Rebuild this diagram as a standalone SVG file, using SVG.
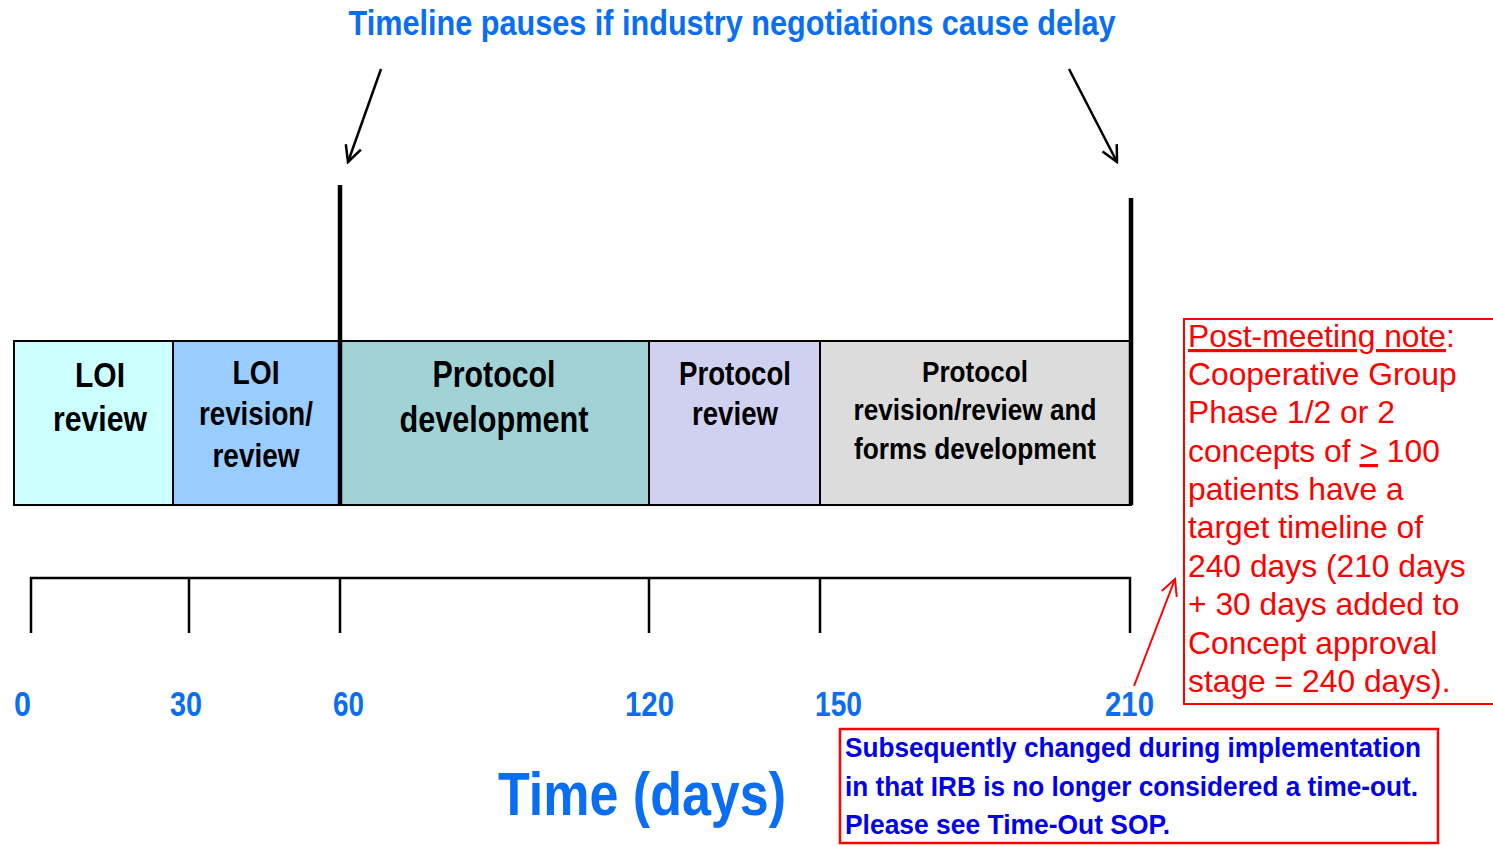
<svg xmlns="http://www.w3.org/2000/svg" width="1493" height="846" viewBox="0 0 1493 846">
<style>
.b{font-family:"Liberation Sans",Arial,sans-serif;font-weight:bold}
.bx{stroke:#000;stroke-width:2}
.lbl{fill:#000;text-anchor:middle}
.ax{fill:#0A6EF5;text-anchor:middle;font-size:35px}
.tick{stroke:#000;stroke-width:2.5;fill:none}
.note{font-family:"Liberation Sans",Arial,sans-serif;font-size:31.8px;fill:#F00}
</style>
<defs>
<marker id="ah" viewBox="0 0 20 20" refX="18" refY="10" markerWidth="20" markerHeight="20" markerUnits="userSpaceOnUse" orient="auto">
<path d="M2,2 L18,10 L2,18" fill="none" stroke="#000" stroke-width="2.5"/>
</marker>
<marker id="ahr" viewBox="0 0 20 20" refX="18" refY="10" markerWidth="20" markerHeight="20" markerUnits="userSpaceOnUse" orient="auto">
<path d="M2,2 L18,10 L2,18" fill="none" stroke="#F00" stroke-width="2"/>
</marker>
</defs>
<rect width="1493" height="846" fill="#fff"/>
<text class="b" x="732" y="35" text-anchor="middle" font-size="35" fill="#0A6EF5" textLength="767" lengthAdjust="spacingAndGlyphs">Timeline pauses if industry negotiations cause delay</text>
<g id="n1"><rect class="bx" x="14" y="341" width="159" height="164" fill="#CCFFFF"/>
<text class="b lbl" font-size="35"><tspan x="100" y="387" textLength="50" lengthAdjust="spacingAndGlyphs">LOI</tspan><tspan x="100" y="431" textLength="94" lengthAdjust="spacingAndGlyphs">review</tspan></text></g>
<g id="n2"><rect class="bx" x="173" y="341" width="167" height="164" fill="#99CCFF"/>
<text class="b lbl" font-size="33"><tspan x="256" y="384" textLength="47" lengthAdjust="spacingAndGlyphs">LOI</tspan><tspan x="256" y="425" textLength="114" lengthAdjust="spacingAndGlyphs">revision/</tspan><tspan x="256" y="467" textLength="87" lengthAdjust="spacingAndGlyphs">review</tspan></text></g>
<g id="n3"><rect class="bx" x="340" y="341" width="309" height="164" fill="#A1D3D6"/>
<text class="b lbl" font-size="36"><tspan x="494" y="387" textLength="123" lengthAdjust="spacingAndGlyphs">Protocol</tspan><tspan x="494" y="432" textLength="189" lengthAdjust="spacingAndGlyphs">development</tspan></text></g>
<g id="n4"><rect class="bx" x="649" y="341" width="171" height="164" fill="#D0D0F0"/>
<text class="b lbl" font-size="34"><tspan x="735" y="385" textLength="112" lengthAdjust="spacingAndGlyphs">Protocol</tspan><tspan x="735" y="425" textLength="86" lengthAdjust="spacingAndGlyphs">review</tspan></text></g>
<g id="n5"><rect class="bx" x="820" y="341" width="311" height="164" fill="#DCDCDC"/>
<text class="b lbl" font-size="30"><tspan x="975" y="382" textLength="106" lengthAdjust="spacingAndGlyphs">Protocol</tspan><tspan x="975" y="420" textLength="243" lengthAdjust="spacingAndGlyphs">revision/review and</tspan><tspan x="975" y="459" textLength="242" lengthAdjust="spacingAndGlyphs">forms development</tspan></text></g>
<g id="connectors">
<line x1="340" y1="185" x2="340" y2="505" stroke="#000" stroke-width="4.5"/>
<line x1="1131" y1="198" x2="1131" y2="505" stroke="#000" stroke-width="4.5"/>
<line x1="381" y1="69" x2="348" y2="162" stroke="#000" stroke-width="2.5" marker-end="url(#ah)"/>
<line x1="1069" y1="69" x2="1117" y2="162" stroke="#000" stroke-width="2.5" marker-end="url(#ah)"/>
<line x1="1134" y1="686" x2="1175" y2="579" stroke="#F00" stroke-width="2" marker-end="url(#ahr)"/>
</g>
<g id="axis">
<path class="tick" d="M31,633 V578 H1130 V633 M189,578 V633 M340,578 V633 M649,578 V633 M820,578 V633"/>
<text class="b ax" x="22.5" y="716" textLength="17" lengthAdjust="spacingAndGlyphs">0</text>
<text class="b ax" x="186" y="716" textLength="32" lengthAdjust="spacingAndGlyphs">30</text>
<text class="b ax" x="348.5" y="716" textLength="31" lengthAdjust="spacingAndGlyphs">60</text>
<text class="b ax" x="649.5" y="716" textLength="49" lengthAdjust="spacingAndGlyphs">120</text>
<text class="b ax" x="838.5" y="716" textLength="47" lengthAdjust="spacingAndGlyphs">150</text>
<text class="b ax" x="1129.5" y="716" textLength="49" lengthAdjust="spacingAndGlyphs">210</text>
<text class="b" x="642" y="815" text-anchor="middle" font-size="62" fill="#0A6EF5" textLength="288" lengthAdjust="spacingAndGlyphs">Time (days)</text>
</g>
<g id="note">
<rect x="1184" y="319" width="320" height="385" fill="none" stroke="#F00" stroke-width="2"/>
<text class="note"><tspan x="1188" y="347" text-decoration="underline">Post-meeting note</tspan><tspan>:</tspan><tspan x="1188" y="385">Cooperative Group</tspan><tspan x="1188" y="423">Phase 1/2 or 2</tspan><tspan x="1188" y="462">concepts of </tspan><tspan text-decoration="underline">&gt;</tspan><tspan> 100</tspan><tspan x="1188" y="500">patients have a</tspan><tspan x="1188" y="538">target timeline of</tspan><tspan x="1188" y="577">240 days (210 days</tspan><tspan x="1188" y="615">+ 30 days added to</tspan><tspan x="1188" y="654">Concept approval</tspan><tspan x="1188" y="692">stage = 240 days).</tspan></text>
</g>
<g id="change">
<rect x="840" y="729" width="598" height="114" fill="#fff" stroke="#F00" stroke-width="2.5"/>
<text class="b" font-size="28.5" fill="#0000EE"><tspan x="845" y="757" textLength="576" lengthAdjust="spacingAndGlyphs">Subsequently changed during implementation</tspan><tspan x="845" y="796" textLength="573" lengthAdjust="spacingAndGlyphs">in that IRB is no longer considered a time-out.</tspan><tspan x="845" y="834" textLength="325" lengthAdjust="spacingAndGlyphs">Please see Time-Out SOP.</tspan></text>
</g>
</svg>
